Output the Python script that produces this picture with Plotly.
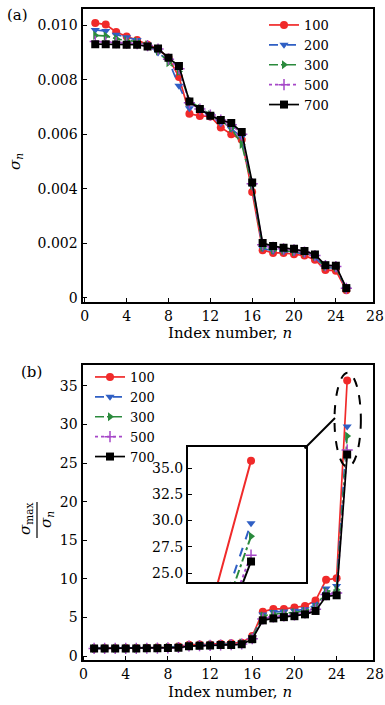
import plotly.graph_objects as go

# ---------------- data ----------------
n_index = list(range(1, 26))
series_names = ["100", "200", "300", "500", "700"]

sigma_100 = [0.01008, 0.01002, 0.00975, 0.00958, 0.00945, 0.00928, 0.00912, 0.00880, 0.00810, 0.00675,
             0.00667, 0.00665, 0.00625, 0.00600, 0.00580, 0.00388, 0.00175, 0.00165, 0.00165, 0.00160,
             0.00155, 0.00140, 0.00102, 0.00100, 0.00028]
sigma_200 = [0.00982, 0.00978, 0.00965, 0.00955, 0.00945, 0.00928, 0.00900, 0.00870, 0.00778, 0.00695,
             0.00690, 0.00670, 0.00640, 0.00620, 0.00590, 0.00410, 0.00182, 0.00172, 0.00170, 0.00167,
             0.00162, 0.00148, 0.00112, 0.00108, 0.00034]
sigma_300 = [0.00962, 0.00960, 0.00950, 0.00943, 0.00940, 0.00928, 0.00905, 0.00862, 0.00830, 0.00725,
             0.00695, 0.00672, 0.00650, 0.00622, 0.00563, 0.00412, 0.00185, 0.00176, 0.00174, 0.00170,
             0.00165, 0.00152, 0.00115, 0.00112, 0.00034]
sigma_500 = [0.00940, 0.00938, 0.00936, 0.00934, 0.00932, 0.00925, 0.00912, 0.00875, 0.00840, 0.00715,
             0.00692, 0.00670, 0.00652, 0.00635, 0.00600, 0.00418, 0.00195, 0.00185, 0.00180, 0.00176,
             0.00168, 0.00155, 0.00118, 0.00115, 0.00035]
sigma_700 = [0.00930, 0.00930, 0.00929, 0.00928, 0.00928, 0.00922, 0.00914, 0.00880, 0.00850, 0.00720,
             0.00692, 0.00668, 0.00652, 0.00641, 0.00608, 0.00423, 0.00201, 0.00190, 0.00184, 0.00180,
             0.00172, 0.00159, 0.00120, 0.00118, 0.00036]

ratio_100 = [1.00, 1.01, 1.03, 1.05, 1.07, 1.09, 1.11, 1.15, 1.24, 1.49, 1.51, 1.52, 1.61, 1.68, 1.74,
             2.60, 5.76, 6.11, 6.11, 6.30, 6.50, 7.20, 9.88, 10.08, 35.70]
ratio_200 = [1.00, 1.00, 1.02, 1.03, 1.04, 1.06, 1.09, 1.13, 1.26, 1.41, 1.42, 1.47, 1.53, 1.58, 1.66,
             2.40, 5.40, 5.71, 5.78, 5.88, 6.06, 6.64, 8.77, 9.09, 29.75]
ratio_300 = [1.00, 1.00, 1.01, 1.02, 1.02, 1.04, 1.06, 1.12, 1.16, 1.33, 1.38, 1.43, 1.48, 1.55, 1.71,
             2.33, 5.20, 5.47, 5.53, 5.66, 5.83, 6.33, 8.37, 8.59, 28.50]
ratio_500 = [1.00, 1.00, 1.00, 1.01, 1.01, 1.02, 1.03, 1.07, 1.12, 1.31, 1.36, 1.40, 1.44, 1.48, 1.57,
             2.25, 4.82, 5.08, 5.22, 5.34, 5.60, 6.06, 7.97, 8.17, 26.70]
ratio_700 = [1.00, 1.00, 1.00, 1.00, 1.00, 1.01, 1.02, 1.06, 1.09, 1.29, 1.34, 1.39, 1.43, 1.45, 1.53,
             2.20, 4.63, 4.89, 5.05, 5.17, 5.41, 5.85, 7.75, 7.88, 26.10]

x_ticks = [0, 4, 8, 12, 16, 20, 24]
top_y_ticks = [0, 0.002, 0.004, 0.006, 0.008, 0.010]
top_y_text = ["0", "0.002", "0.004", "0.006", "0.008", "0.010"]
bot_y_ticks = [0, 5, 10, 15, 20, 25, 30, 35]
inset_y_ticks = [25.0, 27.5, 30.0, 32.5, 35.0]

sigma_sets = [sigma_100, sigma_200, sigma_300, sigma_500, sigma_700]
ratio_sets = [ratio_100, ratio_200, ratio_300, ratio_500, ratio_700]

# ---------------- styles ----------------
colors = ["#f02a2a", "#2f5fc4", "#2a8a3c", "#a648c8", "#000000"]
dashes = ["solid", "dash", "dashdot", "dot", "solid"]
symbols = ["circle", "triangle-down", "triangle-right", "cross-thin", "square"]
msizes = [8, 8, 8, 8, 8]
FONT = "DejaVu Serif"

W, H = 385, 705
top_box = dict(x0=82.5, x1=373, y0=9, y1=302)
bot_box = dict(x0=82.5, x1=373, y0=365, y1=660)
ins_box = dict(x0=188, x1=306, y0=447, y1=582)


def xdom(b):
    return [b["x0"] / W, b["x1"] / W]


def ydom(b):
    return [(H - b["y1"]) / H, (H - b["y0"]) / H]


top_xr = [-0.22, 27.55]
top_yr = [-0.00015, 0.01059]
bot_xr = [-0.1, 27.45]
bot_yr = [-0.5, 37.7]
ins_xr = [24.14, 25.75]
ins_yr = [24.15, 37.0]

fig = go.Figure()


def add_series(ys, i, xa, ya, legend, showlegend, lw=1.7):
    marker = dict(symbol=symbols[i], size=msizes[i], color=colors[i])
    if symbols[i] == "cross-thin":
        marker["line"] = dict(color=colors[i], width=1.5)
    fig.add_trace(go.Scatter(
        x=n_index, y=ys, mode="lines+markers", name=series_names[i],
        line=dict(color=colors[i], width=lw, dash=dashes[i]),
        marker=marker, xaxis=xa, yaxis=ya, legend=legend, showlegend=showlegend))


for i, ys in enumerate(sigma_sets):
    add_series(ys, i, "x", "y", "legend", True)
for i, ys in enumerate(ratio_sets):
    add_series(ys, i, "x2", "y2", "legend2", True)
for i, ys in enumerate(ratio_sets):
    add_series(ys, i, "x3", "y3", "legend2", False, lw=2)

axis_common = dict(showline=True, linecolor="black", linewidth=2, mirror=True,
                   showgrid=False, zeroline=False, ticklen=4, automargin=False,
                   tickwidth=1.2, tickcolor="black",
                   tickfont=dict(family=FONT, size=14, color="black"))

fig.update_layout(
    template="none",
    width=W, height=H, margin=dict(l=0, r=0, t=0, b=0, pad=0, autoexpand=False),
    paper_bgcolor="white", plot_bgcolor="white",
    font=dict(family=FONT, size=14, color="black"),
    xaxis=dict(domain=xdom(top_box), range=top_xr, tickvals=x_ticks, anchor="y",
               ticks="inside", **axis_common),
    yaxis=dict(domain=ydom(top_box), range=top_yr, tickvals=top_y_ticks, ticktext=top_y_text,
               anchor="x", ticks="inside", **axis_common),
    xaxis2=dict(domain=xdom(bot_box), range=bot_xr, tickvals=x_ticks, anchor="y2",
                ticks="inside", **axis_common),
    yaxis2=dict(domain=ydom(bot_box), range=bot_yr, tickvals=bot_y_ticks, anchor="x2",
                ticks="inside", **axis_common),
    xaxis3=dict(domain=xdom(ins_box), range=ins_xr, anchor="y3", showticklabels=False,
                ticks="", **axis_common),
    yaxis3=dict(domain=ydom(ins_box), range=ins_yr, tickvals=inset_y_ticks, tickformat=".1f",
                anchor="x3", ticks="inside", **axis_common),
    legend=dict(x=264 / W, y=(H - 10) / H, xanchor="left", yanchor="top",
                bgcolor="rgba(0,0,0,0)", font=dict(family=FONT, size=13, color="black"),
                tracegroupgap=0, itemwidth=30, borderwidth=0),
    legend2=dict(x=90 / W, y=(H - 362) / H, xanchor="left", yanchor="top",
                 bgcolor="rgba(0,0,0,0)", font=dict(family=FONT, size=13, color="black"),
                 tracegroupgap=0, itemwidth=30, borderwidth=0),
)

ann = []


def px_ann(text, x, y, size=14, angle=0, **kw):
    ann.append(dict(text=text, x=x / W, y=(H - y) / H, xref="paper", yref="paper",
                    xanchor="center", yanchor="middle",
                    showarrow=False, textangle=angle,
                    font=dict(family=FONT, size=size, color="black"), **kw))


px_ann("(a)", 17, 15, size=15)
px_ann("(b)", 31, 372, size=15)
px_ann("Index number, <i>n</i>", 230, 333, size=15)
px_ann("Index number, <i>n</i>", 230, 692, size=15)


def data_to_px_x(v, box, r):
    return box["x0"] + (v - r[0]) / (r[1] - r[0]) * (box["x1"] - box["x0"])


px_ann("28", min(data_to_px_x(28, top_box, top_xr), 375), 316)
px_ann("28", min(data_to_px_x(28, bot_box, bot_xr), 375), 674)

px_ann("<i>σ</i><sub><i>n</i></sub>", 15, 162, size=15, angle=-90)
px_ann("<i>σ</i><sub>max</sub>", 25, 519, size=15, angle=-90)
px_ann("<i>σ</i><sub><i>n</i></sub>", 46, 520, size=15, angle=-90)

fig.update_layout(annotations=ann)

shapes = [dict(type="line", xref="paper", yref="paper", x0=37 / W, x1=37 / W,
               y0=(H - 538) / H, y1=(H - 502) / H, line=dict(color="black", width=1.2))]

last_vals = [r[-1] for r in ratio_sets]
last_n = n_index[-1]
shapes.append(dict(type="circle", xref="x2", yref="y2",
                   x0=last_n - 1.2, x1=last_n + 1.3,
                   y0=min(last_vals) - 1.6, y1=max(last_vals) + 1.0,
                   line=dict(color="black", width=2, dash="dash")))
shapes.append(dict(type="line", xref="paper", yref="paper",
                   x0=335 / W, y0=(H - 418) / H, x1=ins_box["x1"] / W, y1=(H - ins_box["y0"]) / H,
                   line=dict(color="black", width=2)))
shapes.append(dict(type="circle", xref="paper", yref="paper",
                   x0=(ins_box["x1"] - 2) / W, x1=(ins_box["x1"] + 2) / W,
                   y0=(H - ins_box["y0"] - 2) / H, y1=(H - ins_box["y0"] + 2) / H,
                   fillcolor="black", line=dict(color="black", width=0)))
fig.update_layout(shapes=shapes)

fig.write_html("out.html")
